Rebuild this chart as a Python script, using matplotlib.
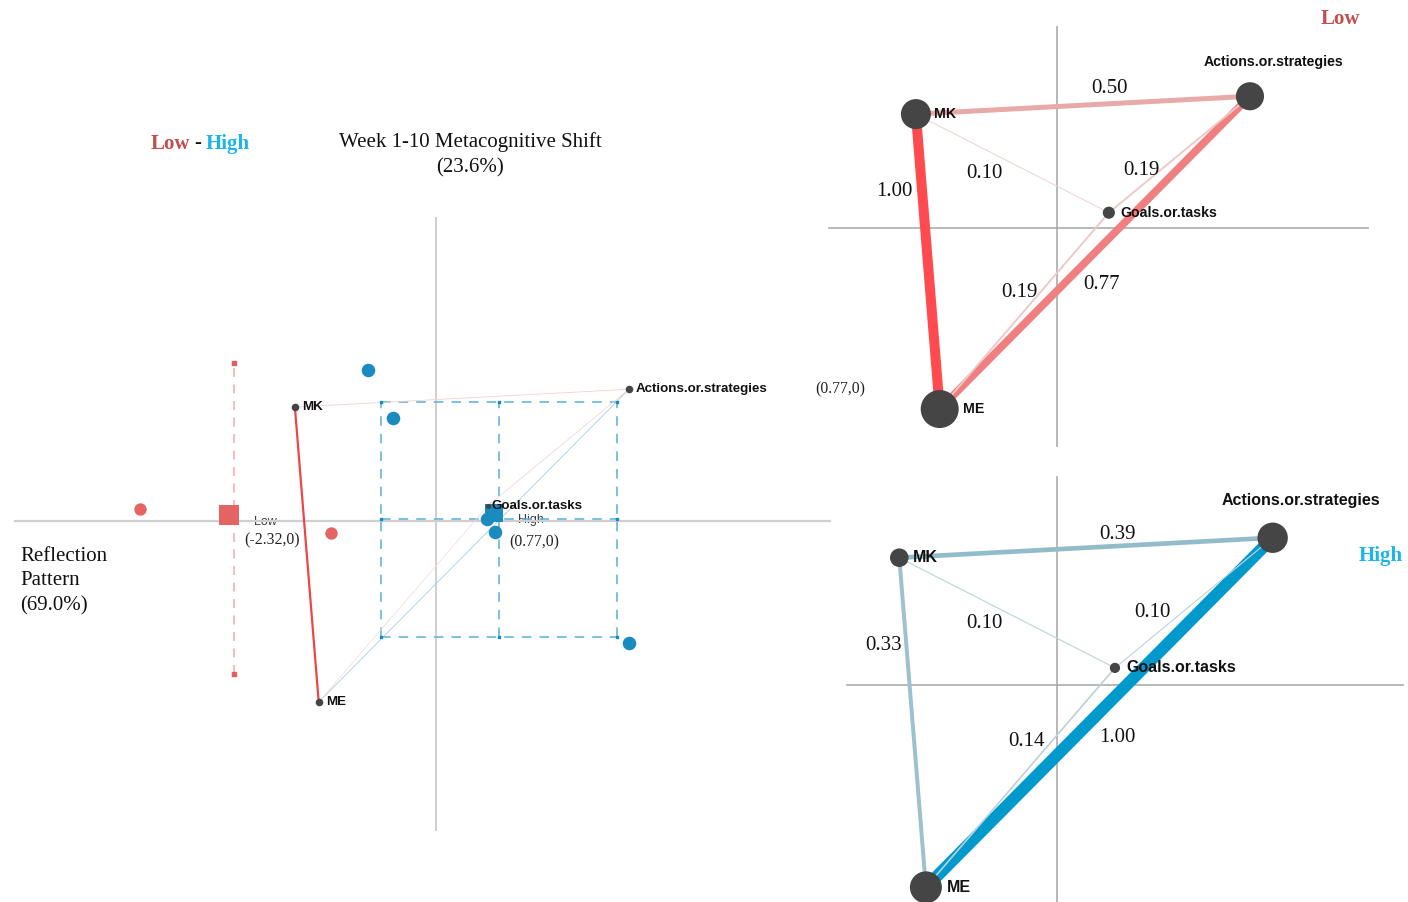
import numpy as np
import matplotlib.pyplot as plt
from matplotlib.colors import LinearSegmentedColormap

plt.rcParams['font.family'] = ['Liberation Sans', 'DejaVu Sans']
SERIF = ['Liberation Serif', 'DejaVu Serif']

W, H = 1408, 902

# ── data ──
codes = ["MK", "ME", "Actions.or.strategies", "Goals.or.tasks"]
node_x = [-1.66, -1.38, 2.27, 0.61]
node_y = [1.34, -2.13, 1.55, 0.18]

edge_from = [0, 0, 1, 0, 3, 1]
edge_to = [1, 2, 2, 3, 2, 3]
low_weights = [1.00, 0.50, 0.77, 0.10, 0.19, 0.19]
high_weights = [0.33, 0.39, 1.00, 0.10, 0.10, 0.14]

low_node_weights = [0.79, 1.00, 0.74, 0.32]
high_node_weights = [0.58, 1.00, 0.95, 0.32]

low_pts_x = [-3.48, -1.24]
low_pts_y = [0.14, -0.14]
high_pts_x = [-0.80, -0.51, 0.60, 0.69, 2.27]
high_pts_y = [1.78, 1.21, 0.02, -0.13, -1.44]

low_mean = (-2.43, 0.07)
high_mean = (0.68, 0.09)
low_mean_label = "(-2.32,0)"
high_mean_label = "(0.77,0)"

low_ci_x = [-2.38, -2.38]
low_ci_y = [-1.80, 1.86]
high_ci_x = [-0.65, 0.74, 2.13]
high_ci_y = [-1.36, 0.02, 1.40]

# edge label spots (data units) for the two subtracted networks
low_lab_x = [-1.91, 0.62, 0.52, -0.85, 0.99, -0.44]
low_lab_y = [0.46, 1.67, -0.64, 0.67, 0.71, -0.73]
high_lab_x = [-1.83, 0.64, 0.64, -0.76, 1.00, -0.32]
high_lab_y = [0.44, 1.61, -0.53, 0.67, 0.79, -0.57]

RED_T = '#c0504d'
CYAN_T = '#1cb5ea'
NODE_C = '#454545'
AXIS_C = '#a8a8a8'

fig = plt.figure(figsize=(W / 100, H / 100), dpi=100)


def panel(x0, y0, x1, y1, ox, oy, scale):
    ax = fig.add_axes([x0 / W, 1 - y1 / H, (x1 - x0) / W, (y1 - y0) / H])
    ax.set_xlim((x0 - ox) / scale, (x1 - ox) / scale)
    ax.set_ylim((oy - y1) / scale, (oy - y0) / scale)
    ax.axis('off')
    ax.patch.set_alpha(0)
    return ax


def px2pt(p):
    return p * 0.72


# ── MAIN: difference network ──
ax = panel(0, 0, 835, 902, 436, 521, 85)
ax.plot([-4.95, 4.64], [0, 0], color='#cfcfcf', lw=px2pt(2.2), zorder=2)
ax.plot([0, 0], [-3.64, 3.56], color='#d0d0d0', lw=px2pt(2), zorder=2)

diff = np.array(low_weights) - np.array(high_weights)
dmax = np.abs(diff).max()
red_cm = LinearSegmentedColormap.from_list('r', ['#f7eaea', '#f04444'])
blue_cm = LinearSegmentedColormap.from_list('b', ['#e8f1f6', '#1a8bc0'])
for i, j, d in zip(edge_from, edge_to, diff):
    if abs(d) < 0.01:
        continue
    t = abs(d) / dmax
    c = red_cm(t) if d > 0 else blue_cm(t)
    ax.plot([node_x[i], node_x[j]], [node_y[i], node_y[j]], color=c,
            lw=px2pt(max(0.8, 2.2 * t)), zorder=3, solid_capstyle='round')

# confidence intervals
ax.plot(low_ci_x, low_ci_y, color='#f2a6a6', lw=px2pt(1.5), ls=(0, (6, 5)), zorder=2)
ax.scatter(low_ci_x, low_ci_y, marker='s', s=5, color='#e46060', zorder=3)
hx0, hxc, hx1 = high_ci_x
hy0, hyc, hy1 = high_ci_y
ci_kw = dict(color='#5db4da', lw=px2pt(1.6), ls=(0, (6, 5)), zorder=2)
for yy in high_ci_y:
    ax.plot([hx0, hx1], [yy, yy], **ci_kw)
for xx in high_ci_x:
    ax.plot([xx, xx], [hy0, hy1], **ci_kw)
gx, gy = np.meshgrid(high_ci_x, high_ci_y)
ax.scatter(gx.ravel(), gy.ravel(), marker='s', s=4, color='#1a8bc0', zorder=3)

# unit points and means
ax.scatter(low_pts_x, low_pts_y, s=80, color='#e46464', zorder=4, linewidths=0)
ax.scatter(high_pts_x, high_pts_y, s=95, color='#1a8bbf', zorder=4, linewidths=0)
ax.scatter([low_mean[0]], [low_mean[1]], marker='s', s=190, color='#e46464', zorder=4, linewidths=0)
ax.scatter([high_mean[0]], [high_mean[1]], marker='s', s=170, color='#1a8bbf', zorder=4, linewidths=0)

ax.annotate("Low", low_mean, xytext=(26, -5), textcoords='offset points', ha='center',
            va='center', fontsize=9, color='#3c3c3c', zorder=1)
ax.annotate(low_mean_label, low_mean, xytext=(31, -18), textcoords='offset points',
            ha='center', va='center', fontsize=11.3, family=SERIF, color='#222222', zorder=1)
ax.annotate("High", high_mean, xytext=(27, -5), textcoords='offset points', ha='center',
            va='center', fontsize=9, color='#3c3c3c', zorder=1)
ax.annotate(high_mean_label, high_mean, xytext=(29, -21), textcoords='offset points',
            ha='center', va='center', fontsize=11.3, family=SERIF, color='#222222', zorder=1)

# nodes
ax.scatter(node_x[:3], node_y[:3], s=30, color=NODE_C, zorder=5, linewidths=0)
ax.scatter(node_x[3:], node_y[3:], s=14, color=NODE_C, zorder=5, linewidths=0)
for k, name in enumerate(codes):
    dx = 2.5 if k == 3 else 5
    ax.annotate(name, (node_x[k], node_y[k]), xytext=(dx, 0), textcoords='offset points',
                ha='left', va='center', fontsize=9.6, fontweight='bold', color='#111111', zorder=6)
ax.annotate(high_mean_label, (node_x[2], node_y[2]), xytext=(152, 0), textcoords='offset points',
            ha='center', va='center', fontsize=11.3, family=SERIF, color='#222222',
            annotation_clip=False)


def network(ax, weights, node_w, lab_x, lab_y, cmap, wmax_px, rmax_px, lab_fs, offs):
    for i, j, w in zip(edge_from, edge_to, weights):
        ax.plot([node_x[i], node_x[j]], [node_y[i], node_y[j]], color=cmap(w),
                lw=px2pt(max(1.0, w * wmax_px)), zorder=3, solid_capstyle='butt')
    sizes = [(px2pt(2 * rmax_px * nw)) ** 2 for nw in node_w]
    ax.scatter(node_x, node_y, s=sizes, color=NODE_C, zorder=5, linewidths=0)
    for w, lx, ly in zip(weights, lab_x, lab_y):
        ax.text(lx, ly, f"{w:.2f}", ha='center', va='center_baseline', fontsize=15,
                family=SERIF, color='#111111', zorder=6)
    for k, name in enumerate(codes):
        dx, dy, ha = offs[k]
        ax.annotate(name, (node_x[k], node_y[k]), xytext=(dx, dy), textcoords='offset points',
                    ha=ha, va='center', fontsize=lab_fs, fontweight='bold', color='#111111',
                    zorder=6)


# ── TOP RIGHT: Low network ──
ax_low = panel(820, 0, 1408, 455, 1057, 228, 85)
ax_low.plot([-2.68, 3.66], [0, 0], color=AXIS_C, lw=px2pt(1.6), zorder=1)
ax_low.plot([0, 0], [-2.56, 2.36], color=AXIS_C, lw=px2pt(1.6), zorder=1)
low_cm = LinearSegmentedColormap.from_list(
    'low', [(0, '#efdcdc'), (0.5, '#e8a9a9'), (0.77, '#f08080'), (1, '#ff4a50')])
network(ax_low, low_weights, low_node_weights, low_lab_x, low_lab_y, low_cm, 10, 19, 10.2,
        [(13, 0, 'left'), (17, 0, 'left'), (17, 24.5, 'center'), (8, 0, 'left')])

# ── BOTTOM RIGHT: High network ──
ax_high = panel(830, 455, 1408, 902, 1057, 685, 95)
ax_high.plot([-2.21, 3.64], [0, 0], color=AXIS_C, lw=px2pt(1.6), zorder=1)
ax_high.plot([0, 0], [-2.28, 2.19], color=AXIS_C, lw=px2pt(1.6), zorder=1)
high_cm = LinearSegmentedColormap.from_list(
    'high', [(0, '#d0dde2'), (0.39, '#93bccb'), (1, '#0099cc')])
network(ax_high, high_weights, high_node_weights, high_lab_x, high_lab_y, high_cm, 12, 16, 11.5,
        [(10, 0, 'left'), (15, 0, 'left'), (20, 27, 'center'), (8, 0, 'left')])

# ── titles and labels ──
fig.text(470 / W, 1 - 155 / H, "Week 1-10 Metacognitive Shift\n(23.6%)", ha='center',
         va='center', fontsize=15, family=SERIF, linespacing=1.4, color='#111111')
fig.text(20 / W, 1 - 581 / H, "Reflection\nPattern\n(69.0%)", ha='left', va='center',
         fontsize=15, family=SERIF, linespacing=1.4, color='#111111')
fig.text(190 / W, 1 - 144 / H, "Low", ha='right', va='center', fontsize=15, family=SERIF,
         fontweight='bold', color=RED_T)
fig.text(198 / W, 1 - 144 / H, "-", ha='center', va='center', fontsize=15, family=SERIF,
         color='#111111')
fig.text(206 / W, 1 - 144 / H, "High", ha='left', va='center', fontsize=15, family=SERIF,
         fontweight='bold', color=CYAN_T)
fig.text(1340 / W, 1 - 19 / H, "Low", ha='center', va='center', fontsize=15, family=SERIF,
         fontweight='bold', color=RED_T)
fig.text(1381 / W, 1 - 556 / H, "High", ha='center', va='center', fontsize=15, family=SERIF,
         fontweight='bold', color=CYAN_T)

fig.savefig("out.png", dpi=100, facecolor='white')
